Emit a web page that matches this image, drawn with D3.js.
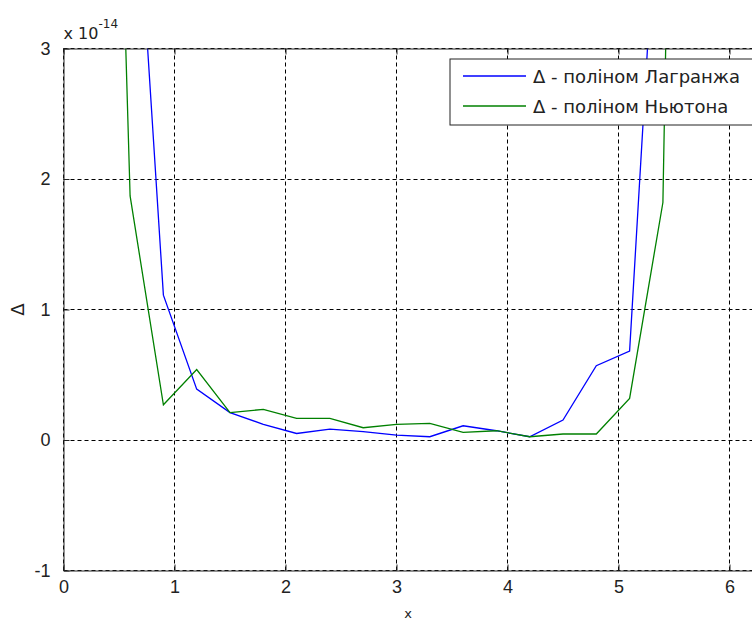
<!DOCTYPE html>
<html>
<head>
<meta charset="utf-8">
<script src="https://cdn.jsdelivr.net/npm/d3@7"></script>
<style>
  body { margin: 0; background: #fff; }
  text { font-family: "DejaVu Sans", Arial, sans-serif; fill: #222; }
</style>
</head>
<body>
<div id="chartId"></div>
<script>
// x nodes and the two error curves, y values in units of 1e-14
var xs = [0, 0.3, 0.6, 0.9, 1.2, 1.5, 1.8, 2.1, 2.4, 2.7, 3.0, 3.3,
          3.6, 3.9, 4.2, 4.5, 4.8, 5.1, 5.4, 5.7, 6.0, 6.3];
var lagrange = [300, 40, 5.1, 1.11, 0.39, 0.21, 0.12, 0.05, 0.084, 0.064, 0.038, 0.025,
                0.109, 0.071, 0.025, 0.153, 0.569, 0.681, 5.0, 40, 300, 2000];
var newton = [200, 10.6, 1.87, 0.27, 0.54, 0.21, 0.235, 0.166, 0.166, 0.094, 0.12, 0.127,
              0.059, 0.071, 0.025, 0.046, 0.046, 0.319, 1.82, 16, 150, 1500];
var xTicks = [0, 1, 2, 3, 4, 5, 6];
var yTicks = [-1, 0, 1, 2, 3];
var seriesNames = ["\u0394 - поліном Лагранжа", "\u0394 - поліном Ньютона"];
var seriesColors = ["#0000ff", "#008000"];

// set the dimensions and margins of the graph
var margin = {top: 48.5, left: 63.5, bottom: 48.5},
    width = 2 * Math.PI * 111,
    height = 619 - margin.top - margin.bottom;

var x = d3.scaleLinear().domain([0, 2 * Math.PI]).range([0, width]);
var y = d3.scaleLinear().domain([-1, 3]).range([height, 0]);
var fmt = function(d) { return String(d); };

var svg = d3.select("div#chartId")
    .append("svg")
    .attr("width", 752)
    .attr("height", 619)
    .append("g")
    .attr("transform", "translate(" + margin.left + "," + margin.top + ")");

svg.append("clipPath").attr("id", "clip")
    .append("rect").attr("width", width).attr("height", height);

// grid
svg.selectAll("vgrid").data(xTicks).enter().append("line")
    .attr("x1", function(d) { return Math.round(x(d)); })
    .attr("x2", function(d) { return Math.round(x(d)); })
    .attr("y1", 0).attr("y2", height)
    .attr("stroke", "#000").attr("stroke-dasharray", "4,3");
svg.selectAll("hgrid").data(yTicks).enter().append("line")
    .attr("x1", 0).attr("x2", width)
    .attr("y1", function(d) { return Math.round(y(d)); })
    .attr("y2", function(d) { return Math.round(y(d)); })
    .attr("stroke", "#000").attr("stroke-dasharray", "4,3");

// curves
var line = d3.line()
    .x(function(d) { return x(d[0]); })
    .y(function(d) { return y(d[1]); });
[lagrange, newton].forEach(function(vals, i) {
    svg.append("path")
        .datum(xs.map(function(v, j) { return [v, vals[j]]; }))
        .attr("clip-path", "url(#clip)")
        .attr("fill", "none")
        .attr("stroke", seriesColors[i])
        .attr("stroke-width", 1.3)
        .attr("d", line);
});

// axes box with inward ticks
var tl = 6;
svg.append("g").attr("transform", "translate(0," + height + ")")
    .call(d3.axisBottom(x).tickValues(xTicks).tickSizeInner(-tl).tickSizeOuter(0).tickPadding(10).tickFormat(fmt));
svg.append("g")
    .call(d3.axisTop(x).tickValues(xTicks).tickSizeInner(-tl).tickSizeOuter(0).tickFormat(""));
svg.append("g")
    .call(d3.axisLeft(y).tickValues(yTicks).tickSizeInner(-tl).tickSizeOuter(0).tickPadding(13).tickFormat(fmt));
svg.append("g").attr("transform", "translate(" + width + ",0)")
    .call(d3.axisRight(y).tickValues(yTicks).tickSizeInner(-tl).tickSizeOuter(0).tickFormat(""));
svg.selectAll(".domain, .tick line").attr("stroke", "#222").attr("stroke-width", 1);
svg.selectAll(".tick text").style("font-size", "18px").attr("fill", "#222")
    .style("font-family", "'Liberation Sans', Arial, sans-serif");

// exponent label
var ex = svg.append("text").attr("x", 0).attr("y", -10).style("font-size", "16px");
ex.append("tspan").text("x 10");
ex.append("tspan").attr("dy", -11).style("font-size", "12px").text("-14");

// axis titles
svg.append("text")
    .attr("x", x(3.105)).attr("y", height + 47)
    .style("text-anchor", "middle").style("font-size", "13px")
    .text("x");
svg.append("text")
    .attr("transform", "translate(" + (-40) + "," + (height / 2) + ") rotate(-90)")
    .style("text-anchor", "middle").style("font-size", "18px")
    .text("\u0394");

// legend
var lg = svg.append("g").attr("transform", "translate(" + (450 - margin.left) + "," + (59 - margin.top) + ")");
lg.append("rect").attr("width", 330).attr("height", 66)
    .attr("fill", "#fff").attr("stroke", "#222");
seriesNames.forEach(function(name, i) {
    var yy = 17 + i * 30;
    lg.append("line").attr("x1", 13).attr("x2", 76).attr("y1", yy).attr("y2", yy)
        .attr("stroke", seriesColors[i]).attr("stroke-width", 1.3);
    lg.append("text").attr("x", 83).attr("y", yy + 7)
        .style("font-size", "18px").text(name);
});
</script>
</body>
</html>
